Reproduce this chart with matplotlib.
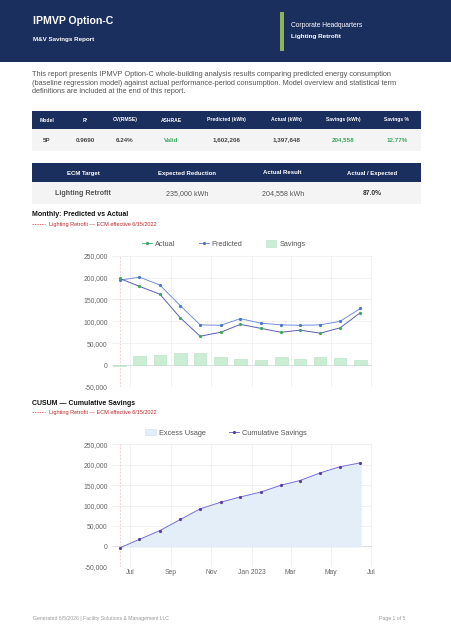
import matplotlib
matplotlib.use("Agg")
import matplotlib.pyplot as plt
import matplotlib.dates as mdates
from matplotlib.lines import Line2D
from matplotlib.patches import Rectangle, Patch
import numpy as np
from datetime import date

plt.rcParams['font.family'] = ['Liberation Sans', 'DejaVu Sans']

months = [date(2022, m, 15) for m in range(6, 13)] + [date(2023, m, 15) for m in range(1, 7)]
predicted = [194000, 201000, 183000, 136000, 92000, 91000, 106000, 96000, 92000, 91000, 92000, 100000, 129600]
actual = [198000, 180000, 162000, 108000, 66000, 75000, 93000, 84000, 75000, 80000, 73000, 85000, 120000]
savings = [-2000, 21000, 22000, 28000, 27000, 18000, 13000, 12000, 18000, 13000, 19000, 16000, 12000]
cusum = [-3900, 17000, 38500, 65800, 91700, 108000, 121000, 133000, 150000, 161000, 180000, 195000, 204558]

stat_cols = ['Model', 'R²', 'CV(RMSE)', 'ASHRAE', 'Predicted (kWh)', 'Actual (kWh)', 'Savings (kWh)', 'Savings %']
stat_vals = ['5P', '0.9690', '6.24%', 'Valid', '1,602,206', '1,397,648', '204,558', '12.77%']
ecm_cols = ['ECM Target', 'Expected Reduction', 'Actual Result', 'Actual / Expected']
ecm_vals = ['Lighting Retrofit', '235,000 kWh', '204,558 kWh', '87.0%']
ecm_date = date(2022, 6, 15)

NAVY = '#1b2f5e'
GREEN = '#3aa860'
W, H = 452, 624

fig = plt.figure(figsize=(W / 100, H / 100), dpi=100)
fig.patch.set_facecolor('white')


def fx(x):
    return x / W


def fy(y):
    return 1 - y / H


def txt(x, y, s, **kw):
    kw.setdefault('va', 'center')
    fig.text(fx(x), fy(y), s, **kw)


def box(x0, y0, x1, y1, color):
    fig.patches.append(Rectangle((fx(x0), fy(y1)), fx(x1 - x0), (y1 - y0) / H,
                                 transform=fig.transFigure, facecolor=color,
                                 edgecolor='none', zorder=0))


# header band
box(0, 0, W, 62, NAVY)
box(280, 12, 284, 51, '#8db35a')
txt(33, 21.5, 'IPMVP Option-C', color='white', fontsize=7.6, fontweight='bold')
txt(33, 40, 'M&V Savings Report', color='white', fontsize=4.5, fontweight='bold')
txt(291, 25.7, 'Corporate Headquarters', color='white', fontsize=4.8)
txt(291, 36.5, 'Lighting Retrofit', color='white', fontsize=4.6, fontweight='bold')

# intro paragraph
para = ['This report presents IPMVP Option-C whole-building analysis results comparing predicted energy consumption',
        '(baseline regression model) against actual performance-period consumption. Model overview and statistical term',
        'definitions are included at the end of this report.']
for i, line in enumerate(para):
    txt(32, 75 + i * 8.4, line, color='#555555', fontsize=5.3)

# stats table
box(32, 110.7, 421, 129.3, NAVY)
box(32, 129.3, 421, 150.7, '#f4f4f4')
stat_x = [46.7, 85, 125, 171, 226.7, 286.7, 343.5, 396.7]
for i in range(len(stat_cols)):
    txt(stat_x[i], 120, stat_cols[i], color='white', fontsize=3.6, fontweight='bold', ha='center')
    c = GREEN if i in (3, 6, 7) else '#444444'
    txt(stat_x[i], 140, stat_vals[i], color=c, fontsize=4.5, ha='center', fontweight='bold')

# ECM table
box(32, 163.3, 421, 182.3, NAVY)
box(32, 182.3, 421, 204, '#f4f4f4')
ecm_x = [83.3, 187.3, 282.7, 372.3]
for i in range(len(ecm_cols)):
    txt(ecm_x[i], 173, ecm_cols[i], color='white', fontsize=4.3, fontweight='bold', ha='center')
    txt(ecm_x[i], 193.3, ecm_vals[i], color='#333333' if i == 3 else '#555555',
        fontsize=5.1 if i != 3 else 4.8, ha='center', fontweight='bold' if i in (0, 3) else 'normal')


def section(y, title):
    txt(32.5, y, title, color='#111111', fontsize=5, fontweight='bold')
    fig.lines.append(Line2D([fx(32), fx(45)], [fy(y + 9)] * 2, transform=fig.transFigure,
                            color='#d0312d', lw=0.5, ls=(0, (2, 1.5))))
    txt(49, y + 9, 'Lighting Retrofit — ECM effective 6/15/2022', color='#c0282d', fontsize=4.0)


def style_axes(ax):
    ax.set_ylim(-50000, 250000)
    ax.set_yticks(np.arange(-50000, 250001, 50000))
    ax.yaxis.set_major_formatter(matplotlib.ticker.FuncFormatter(lambda v, p: f'{int(v):,}'))
    ax.set_xlim(date(2022, 6, 3), date(2023, 7, 2))
    ax.xaxis.set_major_locator(mdates.MonthLocator(bymonth=[1, 3, 5, 7, 9, 11]))
    ax.xaxis.set_major_formatter(mdates.DateFormatter('%b'))
    ax.grid(True, color='#ebebeb', lw=0.5)
    ax.set_axisbelow(True)
    for s in ax.spines.values():
        s.set_visible(False)
    ax.tick_params(length=0, labelsize=4.9, labelcolor='#666666', pad=3)
    ax.axvline(ecm_date, color='#f0c4c4', lw=0.5, ls=(0, (3, 2)))
    ax.axhline(0, color='#d8d8d8', lw=0.5, zorder=1)


# monthly chart
section(215, 'Monthly: Predicted vs Actual')
ax1 = fig.add_axes([fx(111.7), fy(387), fx(260), (387 - 255.7) / H])
style_axes(ax1)
ax1.bar(months, savings, width=19, color='#cbedd6', edgecolor='#b2e2c2', lw=0.4, zorder=2)
ax1.plot(months, predicted, color='#7590dc', lw=0.7, marker='o', ms=1.3,
         mfc='#4a78c8', mec='#4a78c8', zorder=3)
ax1.plot(months, actual, color='#5b5fae', lw=0.7, marker='o', ms=1.3,
         mfc='#3aa860', mec='#3aa860', zorder=3)
ax1.tick_params(axis='x', labelbottom=False)
h1 = [Line2D([], [], color='#4fb88a', lw=0.7, marker='o', ms=1.3, mfc='#3aa860', mec='#3aa860'),
      Line2D([], [], color='#7590dc', lw=0.7, marker='o', ms=1.3, mfc='#4a78c8', mec='#4a78c8'),
      Patch(facecolor='#cbedd6', edgecolor='#b2e2c2', lw=0.4)]
ax1.legend(h1, ['Actual', 'Predicted', 'Savings'], loc='lower left', bbox_to_anchor=(0.095, 1.02),
           ncol=3, frameon=False, fontsize=5.3, labelcolor='#555555', handlelength=1.4,
           handletextpad=0.4, columnspacing=3.2, handleheight=1.0, borderpad=0.2)

# cusum chart
section(403.3, 'CUSUM — Cumulative Savings')
ax2 = fig.add_axes([fx(111.7), fy(566.7), fx(260), (566.7 - 444.3) / H])
style_axes(ax2)
ax2.fill_between(months, cusum, 0, color='#e3eef8', zorder=2)
ax2.plot(months, cusum, color='#7a6fd6', lw=0.7, marker='o', ms=1.3,
         mfc='#5e3f9e', mec='#5e3f9e', zorder=3)
ax2.tick_params(axis='x', pad=2)
h2 = [Patch(facecolor='#e3eef8', edgecolor='#cddff0', lw=0.4),
      Line2D([], [], color='#7a6fd6', lw=0.7, marker='o', ms=1.3, mfc='#5e3f9e', mec='#5e3f9e')]
ax2.legend(h2, ['Excess Usage', 'Cumulative Savings'], loc='lower left', bbox_to_anchor=(0.11, 1.02),
           ncol=2, frameon=False, fontsize=5.3, labelcolor='#555555', handlelength=1.4,
           handletextpad=0.4, columnspacing=3.2, handleheight=1.0, borderpad=0.2)
labels = ax2.get_xticklabels()
for lab in labels:
    if lab.get_text() == 'Jan':
        lab.set_text('Jan 2023')
ax2.set_xticklabels(labels)

# footer
txt(33, 618.3, 'Generated 6/5/2026 | Facility Solutions & Management LLC', color='#9a9a9a', fontsize=3.7)
txt(405, 618.3, 'Page 1 of 5', color='#9a9a9a', fontsize=3.7, ha='right')

fig.savefig('out.png', dpi=100)
